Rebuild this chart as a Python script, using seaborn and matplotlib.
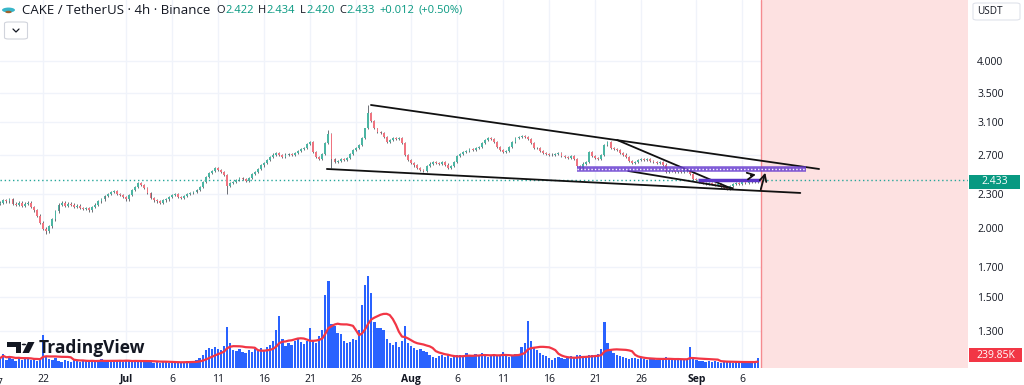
import numpy as np
import pandas as pd
import seaborn as sns
import matplotlib.pyplot as plt
from matplotlib.patches import Rectangle, FancyBboxPatch, Circle, Polygon
from matplotlib.lines import Line2D

W, H = 1024, 385

# 8h candles, Jun 17 08:00 -> Sep 7 16:00
closes = [
    2.22, 2.24, 2.23, 2.25, 2.21, 2.20, 2.22, 2.19, 2.21, 2.22,
    2.18, 2.15, 2.10, 2.04, 1.99, 1.97, 2.01, 2.07, 2.14, 2.20,
    2.22, 2.19, 2.21, 2.20, 2.18, 2.19, 2.17, 2.16, 2.17, 2.15,
    2.18, 2.20, 2.23, 2.25, 2.28, 2.30, 2.32, 2.33, 2.30, 2.29,
    2.27, 2.25, 2.29, 2.34, 2.37, 2.41, 2.39, 2.36, 2.31, 2.26,
    2.24, 2.23, 2.22, 2.24, 2.25, 2.27, 2.29, 2.30, 2.27, 2.26,
    2.28, 2.30, 2.31, 2.32, 2.34, 2.37, 2.42, 2.47, 2.51, 2.53,
    2.56, 2.54, 2.52, 2.49, 2.38, 2.41, 2.42, 2.44, 2.46, 2.45,
    2.43, 2.46, 2.50, 2.52, 2.55, 2.59, 2.62, 2.65, 2.68, 2.71,
    2.73, 2.70, 2.68, 2.71, 2.72, 2.70, 2.73, 2.75, 2.77, 2.79,
    2.83, 2.86, 2.74, 2.68, 2.66, 2.72, 2.84, 2.95, 2.66, 2.63,
    2.64, 2.66, 2.65, 2.67, 2.72, 2.76, 2.79, 2.82, 2.90, 3.02,
    3.22, 3.12, 3.02, 2.98, 2.96, 2.92, 2.86, 2.88, 2.90, 2.89,
    2.90, 2.84, 2.70, 2.65, 2.62, 2.59, 2.56, 2.54, 2.53, 2.58,
    2.61, 2.63, 2.62, 2.61, 2.63, 2.60, 2.56, 2.58, 2.63, 2.69,
    2.72, 2.74, 2.75, 2.77, 2.76, 2.79, 2.80, 2.84, 2.88, 2.90,
    2.89, 2.86, 2.80, 2.76, 2.74, 2.75, 2.80, 2.86, 2.90, 2.92,
    2.93, 2.91, 2.89, 2.84, 2.79, 2.78, 2.75, 2.73, 2.72, 2.71,
    2.70, 2.72, 2.73, 2.69, 2.68, 2.67, 2.69, 2.66, 2.58, 2.56,
    2.61, 2.63, 2.74, 2.69, 2.67, 2.66, 2.70, 2.82, 2.85, 2.79,
    2.77, 2.76, 2.73, 2.71, 2.68, 2.64, 2.62, 2.63, 2.65, 2.66,
    2.65, 2.66, 2.64, 2.63, 2.62, 2.63, 2.60, 2.52, 2.53, 2.54,
    2.52, 2.53, 2.52, 2.54, 2.53, 2.50, 2.45, 2.44, 2.42, 2.41,
    2.40, 2.41, 2.40, 2.39, 2.40, 2.37, 2.36, 2.35, 2.38, 2.40,
    2.41, 2.40, 2.42, 2.41, 2.42, 2.43, 2.42, 2.433,
]
first_open = 2.21
# notable wick extremes: index -> (high, low)
wick_overrides = {15: (None, 1.95), 74: (None, 2.30), 107: (3.00, None),
                  108: (None, 2.56), 120: (3.33, None)}

# volume in thousands
volumes = [
    240, 340, 190, 290, 220, 170, 260, 190, 240, 220,
    190, 220, 170, 240, 790, 290, 220, 190, 240, 170,
    150, 200, 170, 140, 220, 180, 150, 190, 160, 140,
    170, 150, 190, 210, 160, 180, 150, 200, 170, 160,
    150, 190, 170, 140, 180, 160, 150, 200, 170, 140,
    130, 150, 120, 140, 160, 130, 120, 150, 140, 130,
    140, 160, 150, 170, 180, 240, 300, 420, 470, 450,
    500, 450, 420, 520, 980, 600, 430, 400, 460, 380,
    360, 420, 380, 450, 400, 480, 420, 500, 560, 640,
    900, 1250, 700, 520, 600, 560, 640, 700, 620, 580,
    650, 960, 680, 600, 760, 900, 1750, 2080, 1050, 1000,
    850, 820, 650, 600, 620, 700, 680, 900, 1500, 1990,
    2200, 1800, 1100, 950, 960, 900, 700, 600, 550, 620,
    500, 650, 1000, 600, 520, 480, 420, 450, 400, 380,
    300, 260, 240, 280, 320, 260, 300, 250, 280, 300,
    320, 280, 350, 300, 280, 330, 300, 360, 280, 260,
    300, 340, 280, 320, 380, 300, 260, 290, 340, 300,
    500, 600, 1130, 650, 480, 420, 360, 300, 280, 240,
    200, 230, 260, 240, 220, 260, 280, 250, 300, 320,
    280, 260, 320, 300, 280, 340, 450, 1100, 600, 420,
    360, 300, 280, 260, 240, 220, 250, 230, 210, 240,
    220, 200, 230, 210, 190, 200, 240, 260, 220, 200,
    190, 210, 200, 180, 200, 500, 220, 190, 170, 160,
    150, 170, 140, 160, 150, 130, 160, 140, 150, 130,
    140, 150, 130, 160, 140, 130, 150, 239.85,
]

price_ticks = [1.3, 1.5, 1.7, 2.0, 2.3, 2.7, 3.1, 3.5, 4.0]
date_ticks = ['2025-06-22', '2025-07-01', '2025-07-06', '2025-07-11', '2025-07-16',
              '2025-07-21', '2025-07-26', '2025-08-01', '2025-08-06', '2025-08-11',
              '2025-08-16', '2025-08-21', '2025-08-26', '2025-09-01', '2025-09-06']
date_labels = ['22', 'Jul', '6', '11', '16', '21', '26', 'Aug', '6', '11', '16', '21', '26', 'Sep', '6']
month_labels = ['Jul', 'Aug', 'Sep']

# drawings on the chart (time, price)
black_lines = [
    (['2025-07-27 15:00', '2025-09-14 08:00'], [3.33, 2.552]),
    (['2025-07-22 20:00', '2025-09-12 07:00'], [2.552, 2.31]),
    (['2025-08-23 09:00', '2025-09-04 16:00'], [2.879, 2.358]),
    (['2025-08-24 14:00', '2025-09-04 23:00'], [2.531, 2.356]),
]
purple_zone = (['2025-08-19 00:30', '2025-09-12 22:00'], 2.552)
purple_short = (['2025-09-01 04:00', '2025-09-07 22:00'], 2.438)
arrows = [
    (('2025-09-07 22:00', 2.319), ('2025-09-08 13:40', 2.541)),
    (('2025-09-06 14:40', 2.479), ('2025-09-07 18:20', 2.499)),
]
last_price = 2.433
cutoff = '2025-09-08 00:30'

ohlc_parts = [('O', 'dark'), ('2.422', 'green'), ('H', 'dark'), ('2.434', 'green'),
              ('L', 'dark'), ('2.420', 'green'), ('C', 'dark'), ('2.433', 'green'),
              ('+0.012', 'green'), ('(+0.50%)', 'green')]

sns.set_theme(style='white')
plt.rcParams['font.family'] = ['Open Sans', 'DejaVu Sans']

dates = pd.date_range('2025-06-17 08:00', periods=len(closes), freq='8h')
opens = [first_open] + closes[:-1]
df = pd.DataFrame({'date': dates, 'open': opens, 'close': closes, 'volume': volumes})
df['high'] = df[['open', 'close']].max(axis=1) + 0.012
df['low'] = df[['open', 'close']].min(axis=1) - 0.012
for i, (hi, lo) in wick_overrides.items():
    if hi is not None:
        df.loc[i, 'high'] = hi
    if lo is not None:
        df.loc[i, 'low'] = lo
df['vol_ma'] = df['volume'].rolling(10, min_periods=1).mean()

fig = plt.figure(figsize=(W / 100, H / 100), dpi=100)
ax = fig.add_axes([0, 17 / H, 968 / W, 368 / H])
axv = ax.twinx()

jul1 = pd.Timestamp('2025-07-01')
x0 = jul1 - pd.Timedelta(days=13.696)
x1 = jul1 + pd.Timedelta(days=91.52)

ax.set_yscale('log')
ax.set_ylim(1.1155, 5.153)
ax.set_xlim(x0, x1)

# grid
for t in price_ticks:
    ax.axhline(t, color='#f0f3fa', lw=1, zorder=0)
for d in date_ticks:
    ax.axvline(pd.Timestamp(d), color='#f0f3fa', lw=1, zorder=0)

# future / cutoff region
ax.axvspan(pd.Timestamp(cutoff), x1, color='#fde1e1', zorder=0.5, lw=0)
ax.axvline(pd.Timestamp(cutoff), color='#f58a8f', lw=1, zorder=1)

# candles
up = df['close'] >= df['open']
body_lo = df[['open', 'close']].min(axis=1)
body_h = np.maximum((df['close'] - df['open']).abs(), 0.006)
bw = pd.Timedelta(hours=5)
ax.vlines(df['date'], df['low'], df['high'], color='#55585f', lw=0.6, zorder=2)
ax.bar(df['date'][up], body_h[up], bottom=body_lo[up], width=bw, color='#4bb5a3', zorder=3, lw=0)
ax.bar(df['date'][~up], body_h[~up], bottom=body_lo[~up], width=bw, color='#ef7480', zorder=3, lw=0)

# last price dotted line
ax.axhline(last_price, color='#26a69a', lw=1, ls=(0, (1, 2)), zorder=1.5)

# drawings
for xs, ys in black_lines:
    ax.plot(pd.to_datetime(xs), ys, color='#111111', lw=1.3, zorder=6)
zx, zy = purple_zone
ax.plot(pd.to_datetime(zx), [zy, zy], color='#6a3fd0', lw=4, alpha=0.85, zorder=6, solid_capstyle='butt')
ax.plot(pd.to_datetime(zx), [zy, zy], color='white', lw=1, ls=(0, (1, 1.5)), zorder=7)
sx, sy = purple_short
ax.plot(pd.to_datetime(sx), [sy, sy], color='#5b35c8', lw=2.5, zorder=6, solid_capstyle='butt')
for (ta, pa), (tb, pb) in arrows:
    ax.annotate('', xy=(pd.Timestamp(tb), pb), xytext=(pd.Timestamp(ta), pa),
                arrowprops=dict(arrowstyle='->', color='#111111', lw=1.3), zorder=8)

# price axis on the right
ax.yaxis.tick_right()
ax.set_yticks(price_ticks)
ax.set_yticklabels([f'{t:.3f}' for t in price_ticks])
ax.yaxis.set_minor_locator(plt.NullLocator())
ax.tick_params(axis='y', length=0, pad=6.5, labelsize=7.5, labelcolor='#131722')
ax.set_xticks(pd.to_datetime(date_ticks))
ax.set_xticklabels(date_labels)
ax.tick_params(axis='x', length=0, pad=4, labelsize=7.5, labelcolor='#131722')
for lbl in ax.get_xticklabels():
    if lbl.get_text() in month_labels:
        lbl.set_fontweight('bold')
for s in ax.spines.values():
    s.set_visible(False)
# partly visible "17" at the left edge
ax.text(pd.Timestamp('2025-06-17'), -0.028, '17', transform=ax.get_xaxis_transform(),
        ha='center', va='top', fontsize=7.5, color='#131722', clip_on=False)

# volume
axv.set_ylim(0, 8830)
axv.bar(df['date'], df['volume'], width=pd.Timedelta(hours=6), color='#2962ff', lw=0, zorder=2)
sns.lineplot(data=df, x='date', y='vol_ma', ax=axv, color='#f23645', lw=1.6, zorder=3)
axv.set_yticks([])
axv.set_ylabel('')
axv.set_xlabel('')
ax.set_xlabel('')
for s in axv.spines.values():
    s.set_visible(False)
axv.set_xlim(x0, x1)


def fx(x):
    return x / W


def fy(y):
    return 1 - y / H


def box(x, y, w, h, fc, ec='none', rounded=False):
    if rounded:
        p = FancyBboxPatch((fx(x), fy(y + h)), w / W, h / H, boxstyle='round,pad=0,rounding_size=0.004',
                           transform=fig.transFigure, fc=fc, ec=ec, lw=0.8)
    else:
        p = Rectangle((fx(x), fy(y + h)), w / W, h / H, transform=fig.transFigure, fc=fc, ec=ec, lw=0)
    fig.add_artist(p)


# header
green = '#089981'
dark = '#131722'
fig.add_artist(Circle((fx(8.5), fy(10)), 6.5 / W, transform=fig.transFigure, fc='#38b6c9', ec='none'))
fig.add_artist(Circle((fx(8.5), fy(12)), 3.2 / W, transform=fig.transFigure, fc='#a0622d', ec='none'))
fig.text(fx(22), fy(10), 'CAKE / TetherUS · 4h · Binance', fontsize=9.5, color=dark, va='center', ha='left')

renderer = fig.canvas.get_renderer()
xpos = 216
for s, kind in ohlc_parts:
    t = fig.text(fx(xpos), fy(10.5), s, fontsize=8, color=dark if kind == 'dark' else green,
                 va='center', ha='left')
    wpx = t.get_window_extent(renderer).width
    xpos += wpx + (0.5 if kind == 'dark' else 4.5)

box(4.5, 22, 23, 17, 'white', '#d1d4dc', rounded=True)
fig.add_artist(Line2D([fx(13), fx(16), fx(19)], [fy(29), fy(32), fy(29)], transform=fig.transFigure,
                      color=dark, lw=0.9))

# right scale boxes
box(973, 3, 47, 17, 'white', '#e0e3eb', rounded=True)
fig.text(fx(977), fy(11.5), 'USDT', fontsize=7.2, color=dark, va='center', ha='left')
box(969, 175, 51, 14, green)
fig.text(fx(994.5), fy(182), '2.433', fontsize=7.5, color='white', va='center', ha='center')
box(969, 348, 53, 14, '#f23645')
fig.text(fx(995.5), fy(355), '239.85K', fontsize=7.5, color='white', va='center', ha='center')

# TradingView watermark
fig.add_artist(Polygon([(fx(7), fy(342)), (fx(21), fy(342)), (fx(21), fy(353)), (fx(15.5), fy(353)),
                        (fx(15.5), fy(347)), (fx(7), fy(347))], closed=True, transform=fig.transFigure,
                       fc=dark, ec='none'))
fig.add_artist(Circle((fx(24), fy(344.5)), 2.3 / W, transform=fig.transFigure, fc=dark, ec='none'))
fig.add_artist(Polygon([(fx(28), fy(342)), (fx(34.5), fy(342)), (fx(29), fy(353)), (fx(22.5), fy(353))],
                       closed=True, transform=fig.transFigure, fc=dark, ec='none'))
fig.text(fx(39), fy(348), 'TradingView', fontsize=12.5, fontweight='bold', color=dark,
         va='center', ha='left')

fig.savefig('out.png', dpi=100, facecolor='white')
